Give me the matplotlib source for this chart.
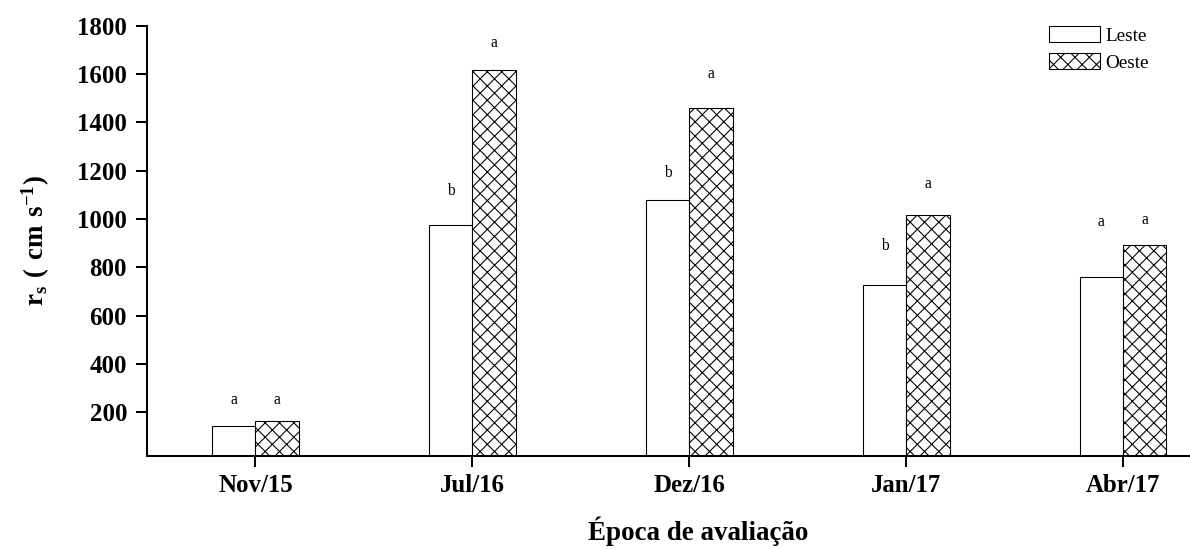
import numpy as np
import matplotlib
matplotlib.use("Agg")
import matplotlib.pyplot as plt

# Dados: resistencia estomatica por epoca e face
epocas = ["Nov/15", "Jul/16", "Dez/16", "Jan/17", "Abr/17"]
leste = [144, 975, 1079, 727, 759]
oeste = [164, 1617, 1458, 1017, 892]

# Letras do teste de medias e altura (linha de base) de cada uma
letras_leste = ["a", "b", "b", "b", "a"]
letras_oeste = ["a", "a", "a", "a", "a"]
y_letras_leste = [235, 1100, 1175, 872, 972]
y_letras_oeste = [235, 1713, 1582, 1127, 979]

yticks = [200, 400, 600, 800, 1000, 1200, 1400, 1600, 1800]

DPI = 86
plt.rcParams["font.family"] = ["Liberation Serif", "DejaVu Serif"]
plt.rcParams["mathtext.fontset"] = "custom"
plt.rcParams["mathtext.rm"] = "Liberation Serif"
plt.rcParams["mathtext.bf"] = "Liberation Serif:bold"
plt.rcParams["hatch.linewidth"] = 0.9

fig = plt.figure(figsize=(1190 / DPI, 549 / DPI), dpi=DPI)
ax = fig.add_axes([147 / 1190, 93.3 / 549, (1231.5 - 147) / 1190, 430 / 549])

x = np.arange(len(epocas))
w = 0.2
ax.bar(x - w / 2, leste, w, facecolor="white", edgecolor="black",
       linewidth=0.9, label="Leste")
ax.bar(x + w / 2, oeste, w, facecolor="white", edgecolor="black",
       linewidth=0.9, hatch="xx", label="Oeste")

for i in range(len(epocas)):
    ax.text(x[i] - w / 2, y_letras_leste[i], letras_leste[i], ha="center",
            va="baseline", fontsize=13)
    ax.text(x[i] + w / 2, y_letras_oeste[i], letras_oeste[i], ha="center",
            va="baseline", fontsize=13)

ax.set_xlim(-0.5, 4.5)
ax.set_ylim(20, 1800)
ax.set_xticks(x)
ax.set_xticklabels(epocas, fontweight="bold")
ax.set_yticks(yticks)
ax.set_yticklabels([str(t) for t in yticks], fontweight="bold")
ax.tick_params(axis="both", direction="out", length=9.2, width=1.7,
               labelsize=20.8)
ax.tick_params(axis="y", pad=7.5)
ax.tick_params(axis="x", pad=6)

for s in ["top", "right"]:
    ax.spines[s].set_visible(False)
for s in ["left", "bottom"]:
    ax.spines[s].set_linewidth(1.7)

ax.set_ylabel(r"$\mathbf{r_{s}\ (\ cm\ s^{-1})}$", fontsize=22.5, labelpad=21)
fig.text(698 / 1190, 9 / 549, "Época de avaliação", ha="center",
         va="baseline", fontsize=22.6, fontweight="bold")

ax.legend(loc="upper left", bbox_to_anchor=(1049 / 1190, 1 - 26 / 549),
          bbox_transform=fig.transFigure, frameon=False, fontsize=16,
          borderpad=0, borderaxespad=0, handlelength=2.65, handleheight=0.9,
          handletextpad=0.3, labelspacing=0.45)

fig.savefig("out.png", dpi=DPI)
